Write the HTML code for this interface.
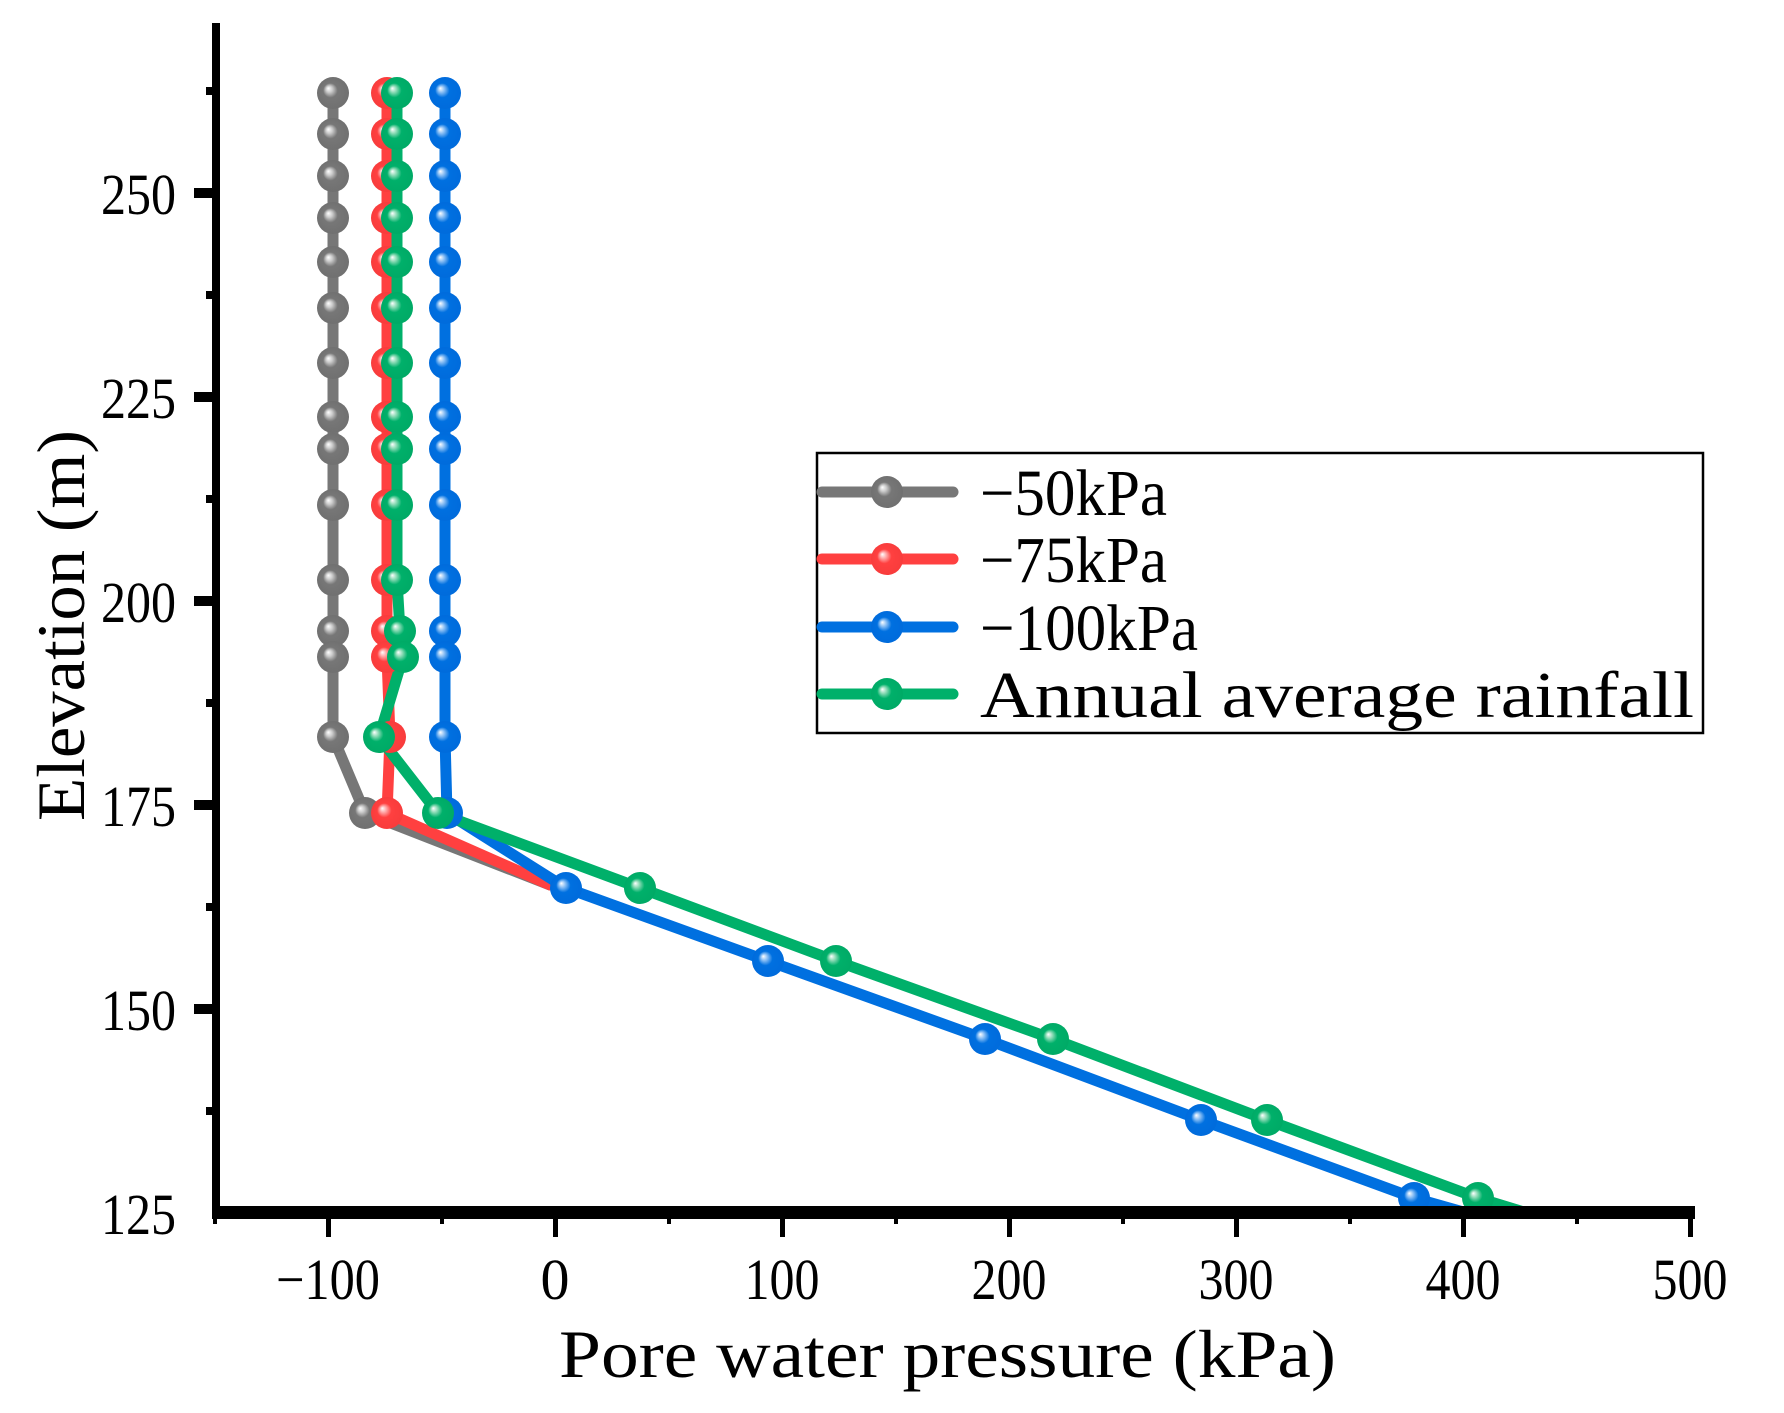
<!DOCTYPE html>
<html><head><meta charset="utf-8"><style>html,body{margin:0;padding:0;background:#fff}svg{display:block}</style></head>
<body>
<svg width="1784" height="1413" viewBox="0 0 1784 1413" xmlns="http://www.w3.org/2000/svg" font-family="'Liberation Serif', serif">
<defs>
<radialGradient id="gG" cx="0.5" cy="0.5" r="0.5" fx="0.35" fy="0.35"><stop offset="0" stop-color="#fff"/><stop offset="0.2" stop-color="#ccc"/><stop offset="0.45" stop-color="#777"/><stop offset="1" stop-color="#707070"/></radialGradient>
<radialGradient id="gR" cx="0.5" cy="0.5" r="0.5" fx="0.35" fy="0.35"><stop offset="0" stop-color="#fff"/><stop offset="0.2" stop-color="#ffaaaa"/><stop offset="0.45" stop-color="#ff4040"/><stop offset="1" stop-color="#f83c3c"/></radialGradient>
<radialGradient id="gB" cx="0.5" cy="0.5" r="0.5" fx="0.35" fy="0.35"><stop offset="0" stop-color="#fff"/><stop offset="0.2" stop-color="#8cc0f5"/><stop offset="0.45" stop-color="#0070e0"/><stop offset="1" stop-color="#006bdc"/></radialGradient>
<radialGradient id="gN" cx="0.5" cy="0.5" r="0.5" fx="0.35" fy="0.35"><stop offset="0" stop-color="#fff"/><stop offset="0.2" stop-color="#90dcb8"/><stop offset="0.45" stop-color="#00b06a"/><stop offset="1" stop-color="#00aa66"/></radialGradient>
</defs>
<g fill="none" stroke-width="11" stroke-linejoin="round" stroke-linecap="round">
<polyline stroke="#777" points="333,93 333,737 365,813 550,885"/>
<polyline stroke="#ff4040" points="387,93 387,657 390,737 387,813 550,885"/>
<polyline stroke="#0070e0" points="445,93 445,737 447,813 566,888 768,961 985,1039 1201,1120 1414,1198 1467,1213"/>
<polyline stroke="#00b06a" points="397,93 397,580 400,631 403,657 379,737 438,813 640,888 836,961 1053,1039 1267,1120 1478,1198 1527,1213"/>
</g>
<g>
<g fill="url(#gG)"><circle cx="333" cy="93" r="16"/><circle cx="333" cy="134" r="16"/><circle cx="333" cy="176" r="16"/><circle cx="333" cy="218" r="16"/><circle cx="333" cy="262" r="16"/><circle cx="333" cy="308" r="16"/><circle cx="333" cy="363" r="16"/><circle cx="333" cy="417" r="16"/><circle cx="333" cy="449" r="16"/><circle cx="333" cy="505" r="16"/><circle cx="333" cy="580" r="16"/><circle cx="333" cy="631" r="16"/><circle cx="333" cy="657" r="16"/><circle cx="333" cy="737" r="16"/><circle cx="365" cy="813" r="16"/></g>
<g fill="url(#gR)"><circle cx="387" cy="93" r="16"/><circle cx="387" cy="134" r="16"/><circle cx="387" cy="176" r="16"/><circle cx="387" cy="218" r="16"/><circle cx="387" cy="262" r="16"/><circle cx="387" cy="308" r="16"/><circle cx="387" cy="363" r="16"/><circle cx="387" cy="417" r="16"/><circle cx="387" cy="449" r="16"/><circle cx="387" cy="505" r="16"/><circle cx="387" cy="580" r="16"/><circle cx="387" cy="631" r="16"/><circle cx="387" cy="657" r="16"/><circle cx="390" cy="737" r="16"/><circle cx="387" cy="813" r="16"/></g>
<g fill="url(#gB)"><circle cx="445" cy="93" r="16"/><circle cx="445" cy="134" r="16"/><circle cx="445" cy="176" r="16"/><circle cx="445" cy="218" r="16"/><circle cx="445" cy="262" r="16"/><circle cx="445" cy="308" r="16"/><circle cx="445" cy="363" r="16"/><circle cx="445" cy="417" r="16"/><circle cx="445" cy="449" r="16"/><circle cx="445" cy="505" r="16"/><circle cx="445" cy="580" r="16"/><circle cx="445" cy="631" r="16"/><circle cx="445" cy="657" r="16"/><circle cx="445" cy="737" r="16"/><circle cx="447" cy="813" r="16"/><circle cx="566" cy="888" r="16"/><circle cx="768" cy="961" r="16"/><circle cx="985" cy="1039" r="16"/><circle cx="1201" cy="1120" r="16"/><circle cx="1414" cy="1198" r="16"/></g>
<g fill="url(#gN)"><circle cx="397" cy="93" r="16"/><circle cx="397" cy="134" r="16"/><circle cx="397" cy="176" r="16"/><circle cx="397" cy="218" r="16"/><circle cx="397" cy="262" r="16"/><circle cx="397" cy="308" r="16"/><circle cx="397" cy="363" r="16"/><circle cx="397" cy="417" r="16"/><circle cx="397" cy="449" r="16"/><circle cx="397" cy="505" r="16"/><circle cx="397" cy="580" r="16"/><circle cx="400" cy="631" r="16"/><circle cx="403" cy="657" r="16"/><circle cx="379" cy="737" r="16"/><circle cx="438" cy="813" r="16"/><circle cx="640" cy="888" r="16"/><circle cx="836" cy="961" r="16"/><circle cx="1053" cy="1039" r="16"/><circle cx="1267" cy="1120" r="16"/><circle cx="1478" cy="1198" r="16"/></g>
</g>
<g fill="#000">
<rect x="212" y="23" width="8" height="1196"/>
<rect x="212" y="1206" width="1483" height="13"/>
<rect x="194" y="188" width="22" height="10"/><rect x="194" y="392" width="22" height="10"/><rect x="194" y="596" width="22" height="10"/><rect x="194" y="800" width="22" height="10"/><rect x="194" y="1004" width="22" height="10"/>
<rect x="206" y="87" width="10" height="8"/><rect x="206" y="291" width="10" height="8"/><rect x="206" y="495" width="10" height="8"/><rect x="206" y="699" width="10" height="8"/><rect x="206" y="903" width="10" height="8"/><rect x="206" y="1107" width="10" height="8"/>
<rect x="326" y="1215" width="5" height="22"/><rect x="553" y="1215" width="5" height="22"/><rect x="780" y="1215" width="5" height="22"/><rect x="1007" y="1215" width="5" height="22"/><rect x="1234" y="1215" width="5" height="22"/><rect x="1461" y="1215" width="5" height="22"/><rect x="1688" y="1215" width="5" height="22"/>
<rect x="213" y="1215" width="4" height="9"/><rect x="440" y="1215" width="4" height="9"/><rect x="667" y="1215" width="4" height="9"/><rect x="894" y="1215" width="4" height="9"/><rect x="1121" y="1215" width="4" height="9"/><rect x="1348" y="1215" width="4" height="9"/><rect x="1575" y="1215" width="4" height="9"/>
</g>
<g font-size="58" text-anchor="end" fill="#000">
<text x="176" y="214" textLength="75" lengthAdjust="spacingAndGlyphs">250</text>
<text x="176" y="418" textLength="75" lengthAdjust="spacingAndGlyphs">225</text>
<text x="176" y="622" textLength="75" lengthAdjust="spacingAndGlyphs">200</text>
<text x="176" y="826" textLength="75" lengthAdjust="spacingAndGlyphs">175</text>
<text x="176" y="1030" textLength="75" lengthAdjust="spacingAndGlyphs">150</text>
<text x="176" y="1234" textLength="75" lengthAdjust="spacingAndGlyphs">125</text>
</g>
<g font-size="58" text-anchor="middle" fill="#000">
<text x="328" y="1299" textLength="104" lengthAdjust="spacingAndGlyphs">−100</text>
<text x="555" y="1299">0</text>
<text x="782" y="1299" textLength="75" lengthAdjust="spacingAndGlyphs">100</text>
<text x="1009" y="1299" textLength="75" lengthAdjust="spacingAndGlyphs">200</text>
<text x="1236" y="1299" textLength="75" lengthAdjust="spacingAndGlyphs">300</text>
<text x="1463" y="1299" textLength="75" lengthAdjust="spacingAndGlyphs">400</text>
<text x="1690" y="1299" textLength="75" lengthAdjust="spacingAndGlyphs">500</text>
</g>
<text x="559" y="1377" font-size="68" textLength="777" lengthAdjust="spacingAndGlyphs">Pore water pressure (kPa)</text>
<text transform="translate(84,821) rotate(-90)" font-size="68" textLength="391" lengthAdjust="spacingAndGlyphs">Elevation (m)</text>
<rect x="817" y="453" width="886" height="280" fill="#fff" stroke="#000" stroke-width="2.5"/>
<g stroke-width="11" stroke-linecap="round">
<line x1="822" y1="492" x2="953" y2="492" stroke="#777"/>
<line x1="822" y1="559" x2="953" y2="559" stroke="#ff4040"/>
<line x1="822" y1="627" x2="953" y2="627" stroke="#0070e0"/>
<line x1="822" y1="694" x2="953" y2="694" stroke="#00b06a"/>
</g>
<circle cx="887" cy="492" r="16" fill="url(#gG)"/>
<circle cx="887" cy="559" r="16" fill="url(#gR)"/>
<circle cx="887" cy="627" r="16" fill="url(#gB)"/>
<circle cx="887" cy="694" r="16" fill="url(#gN)"/>
<g font-size="66" fill="#000">
<text x="980" y="515" textLength="187" lengthAdjust="spacingAndGlyphs">−50kPa</text>
<text x="980" y="582" textLength="187" lengthAdjust="spacingAndGlyphs">−75kPa</text>
<text x="980" y="650" textLength="218" lengthAdjust="spacingAndGlyphs">−100kPa</text>
<text x="980" y="717" textLength="714" lengthAdjust="spacingAndGlyphs">Annual average rainfall</text>
</g>
</svg>
</body></html>
